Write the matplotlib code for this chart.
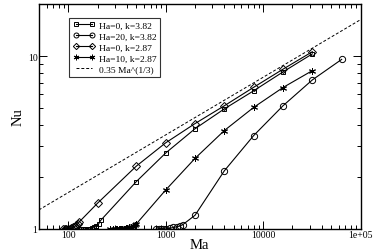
import matplotlib
matplotlib.use("Agg")
import matplotlib.pyplot as plt
import numpy as np
from matplotlib.ticker import LogLocator, FixedFormatter, FixedLocator, NullFormatter

plt.rcParams["font.family"] = ["Liberation Serif", "DejaVu Serif"]

# Ha=0, k=3.82 (squares)
ma_sq = [135, 142, 150, 158, 166, 175, 185, 195, 205, 215, 500, 1000, 2000, 4000, 8000, 16000, 32000]
nu_sq = [1.0, 1.0, 1.0, 1.0, 1.0, 1.01, 1.02, 1.04, 1.07, 1.12, 1.88, 2.75, 3.8, 4.95, 6.3, 8.1, 10.3]

# Ha=20, k=3.82 (circles)
ma_ci = [800, 850, 900, 950, 1000, 1100, 1200, 1300, 1400, 1500, 2000, 4000, 8000, 16000, 32000, 64000]
nu_ci = [1.0, 1.0, 1.0, 1.0, 1.0, 1.01, 1.02, 1.03, 1.04, 1.06, 1.2, 2.17, 3.47, 5.16, 7.28, 9.57]

# Ha=0, k=2.87 (diamonds)
ma_di = [88, 92, 96, 100, 104, 108, 112, 116, 120, 125, 130, 200, 500, 1000, 2000, 4000, 8000, 16000, 32000]
nu_di = [1.0, 1.0, 1.0, 1.0, 1.0, 1.01, 1.02, 1.03, 1.05, 1.07, 1.1, 1.41, 2.31, 3.15, 4.07, 5.16, 6.6, 8.4, 10.6]

# Ha=10, k=2.87 (stars)
ma_st = [270, 285, 300, 310, 320, 330, 340, 350, 360, 370, 380, 390, 400, 420, 440, 460, 480, 500,
         1000, 2000, 4000, 8000, 16000, 32000]
nu_st = [1.0, 1.0, 1.0, 1.0, 1.0, 1.0, 1.0, 1.0, 1.0, 1.0, 1.0, 1.01, 1.01, 1.02, 1.03, 1.04, 1.05, 1.07,
         1.68, 2.56, 3.71, 5.05, 6.58, 8.24]

fit_coef = 0.35
x_ticks = [100, 1000, 10000, 100000]
x_tick_labels = ["100", "1000", "10000", "1e+05"]
y_ticks = [1, 10]
y_tick_labels = ["1", "10"]

fig = plt.figure(figsize=(3.74, 2.53), dpi=100)
ax = fig.add_axes([0.104, 0.091, 0.86, 0.889])

ax.plot(ma_sq, nu_sq, marker="s", ms=3.5, color="black", lw=0.8, mfc="none", mew=0.7,
        label="Ha=0, k=3.82")
ax.plot(ma_ci, nu_ci, marker="o", ms=4.5, color="black", lw=0.8, mfc="none", mew=0.7,
        label="Ha=20, k=3.82")
ax.plot(ma_di, nu_di, marker="D", ms=4, color="black", lw=0.8, mfc="none", mew=0.7,
        label="Ha=0, k=2.87")
ax.plot(ma_st, nu_st, marker=(6, 2, 0), ms=5, color="black", lw=0.8, mew=0.7,
        label="Ha=10, k=2.87")

xl = np.logspace(np.log10(50), 5, 50)
ax.plot(xl, fit_coef * xl ** (1 / 3), "--", color="black", lw=0.7, dashes=(3, 2),
        label="0.35 Ma^(1/3)")

ax.set_xscale("log")
ax.set_yscale("log")
ax.set_xlim(50, 1e5)
ax.set_ylim(1, 20)

ax.xaxis.set_major_locator(FixedLocator(x_ticks))
ax.xaxis.set_major_formatter(FixedFormatter(x_tick_labels))
ax.xaxis.set_minor_locator(LogLocator(base=10, subs=np.arange(2, 10)))
ax.xaxis.set_minor_formatter(NullFormatter())
ax.yaxis.set_major_locator(FixedLocator(y_ticks))
ax.yaxis.set_major_formatter(FixedFormatter(y_tick_labels))
ax.yaxis.set_minor_locator(LogLocator(base=10, subs=np.arange(2, 10)))
ax.yaxis.set_minor_formatter(NullFormatter())

ax.tick_params(which="both", direction="in", top=True, right=True, labelsize=7, width=0.7)
ax.tick_params(which="major", length=6, pad=1)
ax.tick_params(which="minor", length=3)
for s in ax.spines.values():
    s.set_linewidth(1.0)

ax.set_xlabel("Ma", fontsize=10.5, labelpad=-1)
ax.set_ylabel("Nu", fontsize=10.5, labelpad=2)

leg = ax.legend(loc="upper left", bbox_to_anchor=(0.095, 0.94), fontsize=6.8, frameon=True,
                fancybox=False, edgecolor="black", handlelength=2.3, borderpad=0.35,
                labelspacing=0.25, handletextpad=0.5, numpoints=2, borderaxespad=0,
                markerscale=0.8)
leg.get_frame().set_linewidth(0.8)

fig.savefig("out.png", dpi=100)
